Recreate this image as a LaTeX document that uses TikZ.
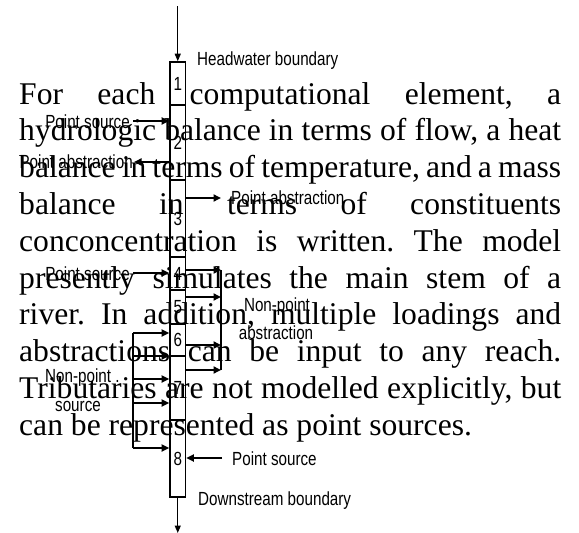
\documentclass[tikz,border=0pt]{standalone}
\usepackage{fontspec}
\setmainfont{Liberation Serif}
\newfontfamily\labfont[FakeStretch=0.8]{Liberation Sans}
\usetikzlibrary{arrows.meta}

\begin{document}
\begin{tikzpicture}[x=1pt,y=-1pt,
  cell/.style={draw, line width=1.6pt, minimum width=15.5pt, inner sep=0pt,
    font=\labfont\fontsize{19}{19}\selectfont},
  flow/.style={line width=1.8pt, -{Triangle[length=7.5pt,width=7pt]}},
  stem/.style={line width=1.3pt, -{Triangle[length=7.5pt,width=6pt]}},
  rail/.style={line width=1.8pt},
  lab/.style={font=\labfont\fontsize{19}{19}\selectfont, inner sep=0pt, text=black},
]
\useasboundingbox (0,0) rectangle (579,533);

% computational elements of the main stem
\node[cell, minimum height=43pt] (b1) at (177.75,83.5) {1};
\node[cell, minimum height=75pt] (b2) at (177.75,142.5) {2};
\node[cell, minimum height=77pt] (b3) at (177.75,218.5) {3};
\node[cell, minimum height=33pt] (b4) at (177.75,273.5) {4};
\node[cell, minimum height=34pt] (b5) at (177.75,307) {5};
\node[cell, minimum height=32pt] (b6) at (177.75,340) {6};
\node[cell, minimum height=64pt] (b7) at (177.75,388) {7};
\node[cell, minimum height=77pt] (b8) at (177.75,458.5) {8};

% boundaries
\coordinate (up) at (177.75,6);
\coordinate (down) at (177.75,533);
\draw[stem] (up) -- (b1.north);
\draw[stem] (b8.south) -- (down);
\node[lab, anchor=base west] (hw) at (197,65) {Headwater boundary};
\node[lab, anchor=base west] (ds) at (198,505) {Downstream boundary};

% point loads and abstractions
\coordinate (psA) at (133,121);
\coordinate (paA) at (134,162);
\coordinate (paB) at (221,198);
\coordinate (psB) at (133,273);
\coordinate (psC) at (222,458);
\draw[flow] (psA) -- (psA -| b2.west);
\draw[flow] (paA -| b2.west) -- (paA);
\draw[flow] (paB -| b3.east) -- (paB);
\draw[flow] (psB) -- (psB -| b4.west);
\draw[flow] (psC) -- (psC -| b8.east);
\node[lab, anchor=base east] (lpsA) at (130,128) {Point source};
\node[lab, anchor=base east] (lpaA) at (133,168) {Point abstraction};
\node[lab, anchor=base west] (lpaB) at (231,204.5) {Point abstraction};
\node[lab, anchor=base east] (lpsB) at (130,280) {Point source};
\node[lab, anchor=base west] (lpsC) at (232,465) {Point source};

% distributed abstraction on the right
\coordinate (na1) at (221,270);
\coordinate (na2) at (221,297);
\coordinate (na3) at (221,345);
\coordinate (na4) at (221,370);
\draw[rail] (na1) -- (na4);
\foreach \c in {na1,na2,na3,na4}
  \draw[flow] (\c -| b5.east) -- (\c);
\node[lab, anchor=base] (lna1) at (277,311) {Non-point};
\node[lab, anchor=base] (lna2) at (276,339.5) {abstraction};

% distributed source on the left
\coordinate (ns1) at (133,333);
\coordinate (ns2) at (133,356);
\coordinate (ns3) at (133,379);
\coordinate (ns4) at (133,403);
\coordinate (ns5) at (133,448);
\draw[rail] (ns1) -- (ns5);
\foreach \c in {ns1,ns2,ns3,ns4,ns5}
  \draw[flow] (\c) -- (\c -| b6.west);
\node[lab, anchor=base west] (lns1) at (45,382) {Non-point .};
\node[lab, anchor=base] (lns2) at (78,411) {source};

% description paragraph
\node[anchor=base west, inner sep=0pt] (para) at (19,104) {\parbox[t]{542pt}{%
\fontsize{31.6}{36.8}\selectfont\frenchspacing
\hbox to\hsize{For each computational element, a}
\hbox to\hsize{hydrologic balance in terms of flow, a heat}
\hbox to\hsize{balance in terms of temperature, and a mass}
\hbox to\hsize{balance in terms of constituents}
\hbox to\hsize{conconcentration is written. The model}
\hbox to\hsize{presently simulates the main stem of a}
\hbox to\hsize{river. In addition, multiple loadings and}
\hbox to\hsize{abstractions can be input to any reach.}
\hbox to\hsize{Tributaries are not modelled explicitly, but}
\hbox{can be represented as point sources.}}};
\end{tikzpicture}
\end{document}
